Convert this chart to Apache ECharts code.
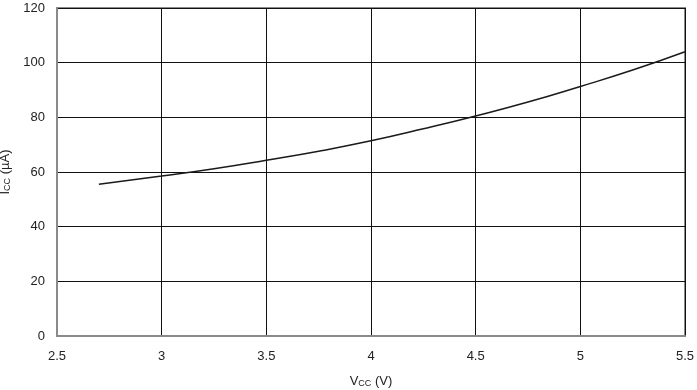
<!DOCTYPE html>
<html><head><meta charset="utf-8">
<script src="https://cdn.jsdelivr.net/npm/echarts@6/dist/echarts.min.js"></script>
<style>html,body{margin:0;padding:0;background:#fff}#c{width:697px;height:390px}</style>
</head><body><div id="c"></div>
<script>
const vcc = [2.7, 3.0, 3.25, 3.5, 3.75, 4.0, 4.25, 4.5, 4.75, 5.0, 5.25, 5.5];
const icc = [55.5, 58.5, 61.2, 64.3, 67.6, 71.4, 75.8, 80.5, 85.6, 91.3, 97.3, 104.0];
const xTicks = [2.5, 3, 3.5, 4, 4.5, 5, 5.5];
const yTicks = [0, 20, 40, 60, 80, 100, 120];

const font = 'Liberation Sans, Arial, Helvetica, sans-serif';
const txt = '#222';
const chart = echarts.init(document.getElementById('c'), null, {renderer: 'canvas'});
chart.setOption({
  animation: false,
  grid: {left: 57, right: 12, top: 8, bottom: 54, containLabel: false, outerBoundsMode: 'none',
    show: true, borderColor: '#8a8a8a', borderWidth: 2, backgroundColor: 'transparent'},
  xAxis: {
    type: 'value', min: xTicks[0], max: xTicks[xTicks.length - 1], interval: 0.5,
    axisLine: {show: true, lineStyle: {color: '#8a8a8a', width: 2}},
    axisTick: {show: false},
    splitLine: {show: true, lineStyle: {color: '#111', width: 1}},
    axisLabel: {color: txt, fontFamily: font, fontSize: 13, margin: 14, showMinLabel: true, showMaxLabel: true,
      formatter: v => String(v)},
    name: '{a|V}{b|CC}{a| (V)}', nameLocation: 'middle', nameGap: 36,
    nameTextStyle: {rich: {
      a: {fontFamily: font, fontSize: 13, color: txt, verticalAlign: 'bottom', lineHeight: 16},
      b: {fontFamily: font, fontSize: 9, color: txt, verticalAlign: 'bottom', lineHeight: 12}
    }}
  },
  yAxis: {
    type: 'value', min: yTicks[0], max: yTicks[yTicks.length - 1], interval: 20,
    axisLine: {show: true, lineStyle: {color: '#8a8a8a', width: 2}},
    axisTick: {show: false},
    splitLine: {show: true, lineStyle: {color: '#111', width: 1}},
    axisLabel: {color: txt, fontFamily: font, fontSize: 13, margin: 12},
    name: '{a|I}{b|CC}{a| (µA)}', nameLocation: 'middle', nameGap: 40, nameRotate: 90,
    nameTextStyle: {rich: {
      a: {fontFamily: font, fontSize: 13, color: txt, verticalAlign: 'bottom', lineHeight: 16},
      b: {fontFamily: font, fontSize: 9, color: txt, verticalAlign: 'bottom', lineHeight: 12}
    }}
  },
  series: [{
    type: 'line', smooth: true, symbol: 'none',
    data: vcc.map((x, i) => [x, icc[i]]),
    lineStyle: {color: '#1a1a1a', width: 1.5}
  }]
});
</script></body></html>
